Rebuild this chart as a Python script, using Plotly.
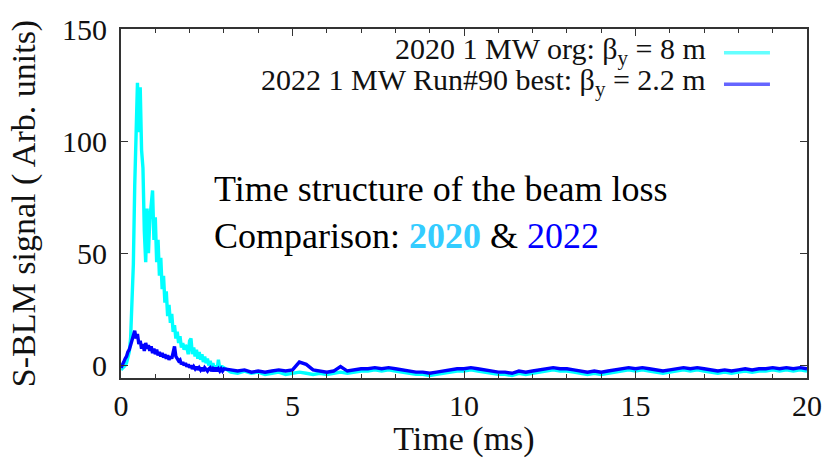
import plotly.graph_objects as go

# ---- sampled S-BLM signal (arbitrary units) ----
# fast segment: 0.00 .. 3.00 ms, one sample every 0.04 ms
fast_t0, fast_dt = 0.0, 0.04
sig2020_fast = [
    -2, -1.5, -1, 0, 1, 3, 6, 12, 25, 45,
    80, 110, 126, 104, 124, 96, 88, 60, 46, 70,
    50, 65, 74, 78, 56, 66, 46, 56, 40, 48,
    34, 40, 28, 33, 22, 27, 19, 23, 15, 18,
    12, 15, 10, 13, 8, 10, 7, 9, 8, 5,
    11, 12, 5, 8, 4, 7, 3, 6, 2.5, 5,
    1.5, 4, 1, 3, 0, 2, -0.5, 1, -1.5, 0,
    -2, 2.5, -1.5, 0, -2.5, -1,
]
sig2022_fast = [
    -1, 0, 1.5, 3, 4, 6, 7, 9, 11, 13,
    15.5, 12, 14, 9.5, 11, 7.5, 9.5, 6.5, 10, 7.5,
    9, 6.5, 8.5, 5.5, 7.5, 5, 7, 4.5, 6, 4,
    5.5, 3.5, 5, 3, 4.5, 2.5, 4, 3, 6, 8.5,
    4, 2.5, 2, 2.5, 0.5, 1.5, 0, 1, -0.5, 0.5,
    -1, 0, -1.5, -0.5, -1.5, -0.5, -2, -1, -2, -1,
    -2.5, -1, -2, -2.5, -1.5, -1, -2.5, -1.5, -2.5, -1,
    -2.5, -1.5, -2.5, -1.5, -2.5, -1.5,
]

# slow segment: 3.2 .. 20.0 ms, one sample every 0.2 ms
slow_t0, slow_dt = 3.2, 0.2
sig2020_slow = [
    -3, -3.5, -2.5, -3.5, -3, -4, -3.5, -3, -4, -3.5,
    -3, -3.5, -4, -3.5, -4, -3.5, -3, -3.5, -3, -2.5,
    -2.5, -2, -2.5, -2, -2.5, -3, -3.5, -4, -4, -4.5,
    -4, -3.5, -3, -2.5, -2.5, -2, -2.5, -3, -3.5, -4,
    -4, -4.5, -3.5, -4, -3.5, -3, -2.5, -2, -2.5, -2.5,
    -3, -3.5, -4, -3.5, -4, -3.5, -3, -2.5, -2, -2.5,
    -2, -2.5, -3, -3.5, -3, -2.5, -2, -2.5, -2, -2.5,
    -3, -3.5, -3, -3.5, -3, -2.5, -3, -2.5, -2.5, -2,
    -2.5, -2, -2.5, -2, -2.5,
]
sig2022_slow = [
    -2, -2.5, -2, -3, -2.5, -3, -2.5, -2, -2.5, -2,
    1.5, 0.5, -2, -2.5, -3, -2.5, -0.5, -2.5, -2, -1.5,
    -1.5, -1, -1.5, -1, -1.5, -2, -2.5, -3, -3, -3.5,
    -3, -2.5, -2, -1.5, -1.5, -1, -1.5, -2, -2.5, -3,
    -3, -3.5, -2.5, -3, -2.5, -2, -1.5, -1, -1.5, -1.5,
    -2, -2.5, -3, -2.5, -3, -2.5, -2, -1.5, -1, -1.5,
    -1, -1.5, -2, -2.5, -2, -1.5, -1, -1.5, -1, -1.5,
    -2, -2.5, -2, -2.5, -2, -1.5, -2, -1.5, -1.5, -1,
    -1.5, -1, -1.5, -1, -1.5,
]

x_ticks = [0, 5, 10, 15, 20]
y_ticks = [0, 50, 100, 150]

legend_2020 = "2020 1 MW org: β<sub>y</sub> = 8 m"
legend_2022 = "2022 1 MW Run#90 best: β<sub>y</sub> = 2.2 m"
note_line1 = "Time structure of the beam loss"
note_line2 = ("Comparison: <b><span style='color:#33ccff'>2020</span></b> &amp; "
              "<span style='color:#0000ff'>2022</span>")

CYAN = "#00ffff"
BLUE = "#0000ff"
FONT = "Liberation Serif"


def timeline(t0, dt, n):
    return [round(t0 + dt * i, 4) for i in range(n)]


t2020 = timeline(fast_t0, fast_dt, len(sig2020_fast)) + timeline(slow_t0, slow_dt, len(sig2020_slow))
t2022 = timeline(fast_t0, fast_dt, len(sig2022_fast)) + timeline(slow_t0, slow_dt, len(sig2022_slow))
y2020 = sig2020_fast + sig2020_slow
y2022 = sig2022_fast + sig2022_slow

fig = go.Figure()
fig.add_trace(go.Scatter(x=t2020, y=y2020, mode="lines", name=legend_2020,
                         line=dict(color=CYAN, width=3.4), showlegend=False))
fig.add_trace(go.Scatter(x=t2022, y=y2022, mode="lines", name=legend_2022,
                         line=dict(color=BLUE, width=3.4), showlegend=False))

# key drawn as text followed by its line sample
key_rows = [(legend_2020, CYAN, 0.938), (legend_2022, BLUE, 0.848)]
for label, color, yk in key_rows:
    fig.add_annotation(x=0.855, y=yk, xref="paper", yref="paper", text=label,
                       showarrow=False, xanchor="right", yanchor="middle",
                       font=dict(family=FONT, size=30, color="#111"))
    fig.add_shape(type="line", xref="paper", yref="paper",
                  x0=0.879, x1=0.946, y0=yk - 0.006, y1=yk - 0.006,
                  line=dict(color=color, width=3.5), opacity=0.6)

fig.add_annotation(x=0.133, y=0.542, xref="paper", yref="paper", text=note_line1,
                   showarrow=False, xanchor="left", yanchor="middle",
                   font=dict(family=FONT, size=36, color="#000"))
fig.add_annotation(x=0.133, y=0.407, xref="paper", yref="paper", text=note_line2,
                   showarrow=False, xanchor="left", yanchor="middle",
                   font=dict(family=FONT, size=36, color="#000"))

axis_common = dict(
    showline=True, linecolor="#333", linewidth=1.8, mirror="ticks",
    ticks="inside", ticklen=7, tickwidth=1, tickcolor="#333",
    showgrid=False, zeroline=False,
    tickfont=dict(family=FONT, size=30, color="#111"),
)

fig.update_xaxes(range=[0, 20], tickvals=x_ticks,
                 minor=dict(dtick=1, ticks="inside", ticklen=4, tickcolor="#333"),
                 title=dict(text="Time (ms)", font=dict(family=FONT, size=34, color="#111"),
                            standoff=0),
                 **axis_common)
fig.update_yaxes(range=[-5.6, 150], tickvals=y_ticks, ticklabelstandoff=6,
                 title=dict(text="S-BLM signal ( Arb. units)",
                            font=dict(family=FONT, size=34, color="#111"), standoff=16),
                 **axis_common)

fig.update_layout(
    width=840, height=458,
    margin=dict(l=121, r=33, t=20, b=80),
    paper_bgcolor="white", plot_bgcolor="white",
    font=dict(family=FONT),
    showlegend=False,
)

fig.write_html("out.html")
